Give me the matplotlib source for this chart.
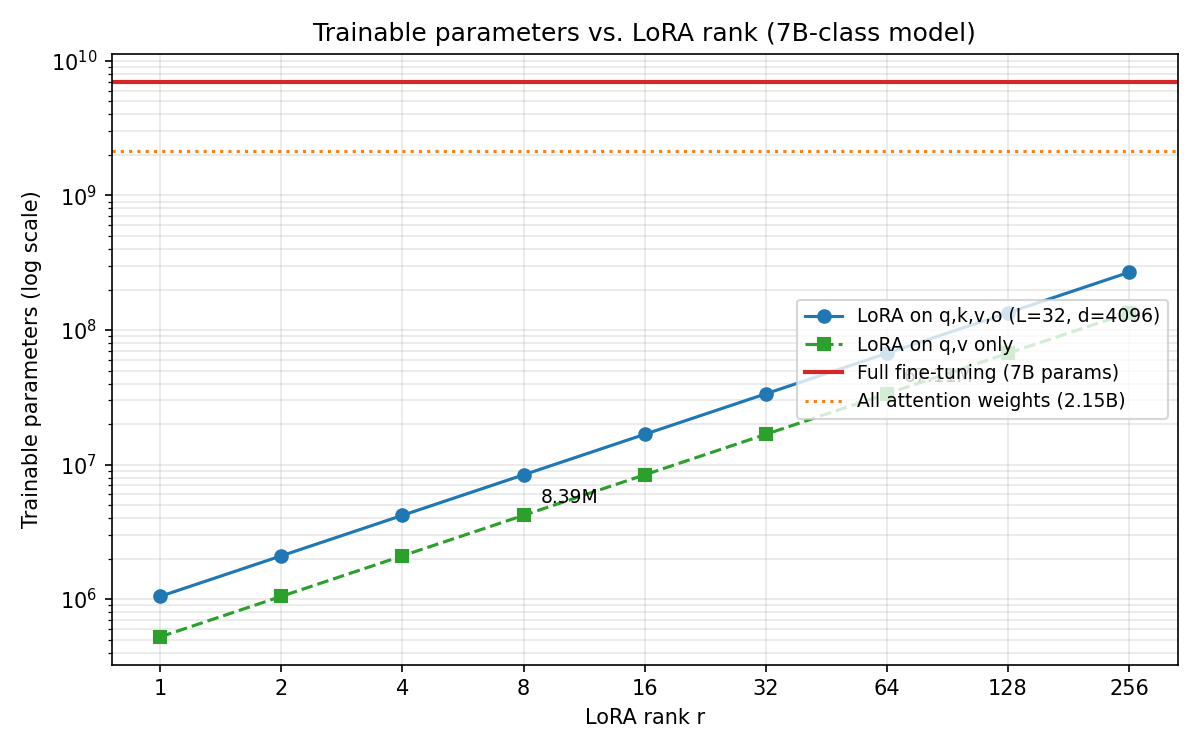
import matplotlib
matplotlib.use("Agg")
import matplotlib.pyplot as plt

ranks = [1, 2, 4, 8, 16, 32, 64, 128, 256]
qkvo_params = [1048576, 2097152, 4194304, 8388608, 16777216, 33554432,
               67108864, 134217728, 268435456]
qv_params = [524288, 1048576, 2097152, 4194304, 8388608, 16777216,
             33554432, 67108864, 134217728]
full_params = 7.0e9
attn_params = 2147483648
annotated = {8: "8.39M", 64: "67.11M"}

fig, ax = plt.subplots(figsize=(8, 5), dpi=150)

ax.plot(ranks, qkvo_params, "o-", color="tab:blue",
        label="LoRA on q,k,v,o (L=32, d=4096)")
ax.plot(ranks, qv_params, "s--", color="tab:green", label="LoRA on q,v only")
ax.axhline(full_params, color="tab:red", lw=2, label="Full fine-tuning (7B params)")
ax.axhline(attn_params, color="tab:orange", ls=":", lw=1.5,
           label="All attention weights (2.15B)")

# label a couple of points
for r, p in zip(ranks, qkvo_params):
    if r in annotated:
        ax.annotate(annotated[r], (r, p), xytext=(8, -11),
                    textcoords="offset points", ha="left", va="center", fontsize=9)

ax.set_xscale("log", base=2)
ax.set_yscale("log")
ax.set_xticks(ranks)
ax.set_xticklabels([str(r) for r in ranks])
ax.grid(True, which="both", alpha=0.3)

ax.set_xlabel("LoRA rank r")
ax.set_ylabel("Trainable parameters (log scale)")
ax.set_title("Trainable parameters vs. LoRA rank (7B-class model)")
ax.legend(loc="center right", fontsize=9)

fig.tight_layout()
fig.savefig("out.png")
